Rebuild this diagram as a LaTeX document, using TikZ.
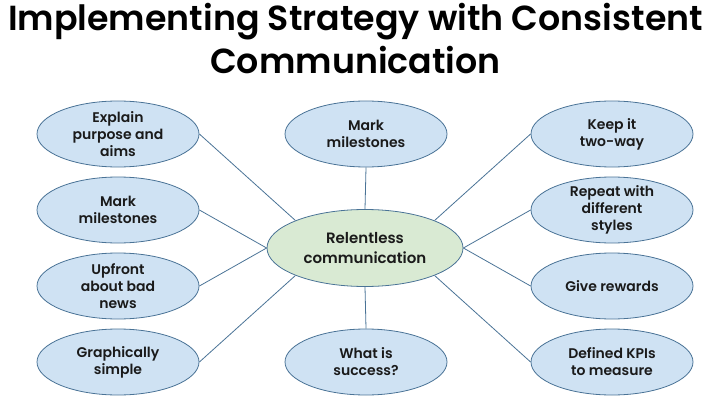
\documentclass[tikz,border=0pt]{standalone}
\usepackage{fontspec}
\setmainfont{Poppins}[BoldFont={Poppins SemiBold}]
\usetikzlibrary{shapes.geometric}
\definecolor{bfill}{HTML}{CFE2F3}
\definecolor{gfill}{HTML}{D9EAD3}
\definecolor{edge}{HTML}{4A7396}
\definecolor{ink}{HTML}{1A1A1A}
\tikzset{
  bub/.style={ellipse, draw=edge, fill=bfill, line width=0.8pt, minimum width=162pt, minimum height=66pt, inner sep=0pt},
  hub/.style={ellipse, draw=edge, fill=gfill, line width=0.8pt, minimum width=196pt, minimum height=77pt, inner sep=0pt},
  txt/.style={font=\bfseries\fontsize{14}{17}\selectfont, align=center, text=ink, inner sep=0pt},
  hubtxt/.style={font=\bfseries\fontsize{15}{20}\selectfont, align=center, text=ink, inner sep=0pt},
  ttl/.style={font=\bfseries\fontsize{34.8}{40}\selectfont, text=black, inner sep=0pt, anchor=base},
  link/.style={draw=edge, line width=0.8pt}
}
\begin{document}
\begin{tikzpicture}[x=1pt,y=-1pt]
\useasboundingbox (0,0) rectangle (711,406);
\node[ttl] (t1) at (355.5,31) {Implementing Strategy with Consistent};
\node[ttl] (t2) at (355.5,74) {Communication};

\node[hub] (c) at (365,248) {};
\node[hubtxt] (ct) at (c) {Relentless\\communication};

\node[bub] (l1) at (118,134) {};
\node[bub] (l2) at (118,210) {};
\node[bub] (l3) at (118,286) {};
\node[bub] (l4) at (118,362) {};
\node[bub] (m1) at (366,134) {};
\node[bub] (m2) at (366,362) {};
\node[bub] (r1) at (612,134) {};
\node[bub] (r2) at (612,210) {};
\node[bub] (r3) at (612,286) {};
\node[bub] (r4) at (612,362) {};

\node[txt] (l1t) at (l1) {Explain\\purpose and\\aims};
\node[txt] (l2t) at (l2) {Mark\\milestones};
\node[txt] (l3t) at (l3) {Upfront\\about bad\\news};
\node[txt] (l4t) at (l4) {Graphically\\simple};
\node[txt] (m1t) at (m1) {Mark\\milestones};
\node[txt] (m2t) at (m2) {What is\\success?};
\node[txt] (r1t) at (r1) {Keep it\\two-way};
\node[txt] (r2t) at (r2) {Repeat with\\different\\styles};
\node[txt] (r3t) at (r3) {Give rewards};
\node[txt] (r4t) at (r4) {Defined KPIs\\to measure};

\draw[link] (l1.east) -- (c.north west);
\draw[link] (l2.east) -- (c.west);
\draw[link] (l3.east) -- (c.west);
\draw[link] (l4.east) -- (c.south west);
\draw[link] (m1.south) -- (c.north);
\draw[link] (m2.north) -- (c.south);
\draw[link] (r1.west) -- (c.north east);
\draw[link] (r2.west) -- (c.east);
\draw[link] (r3.west) -- (c.east);
\draw[link] (r4.west) -- (c.south east);
\end{tikzpicture}
\end{document}
